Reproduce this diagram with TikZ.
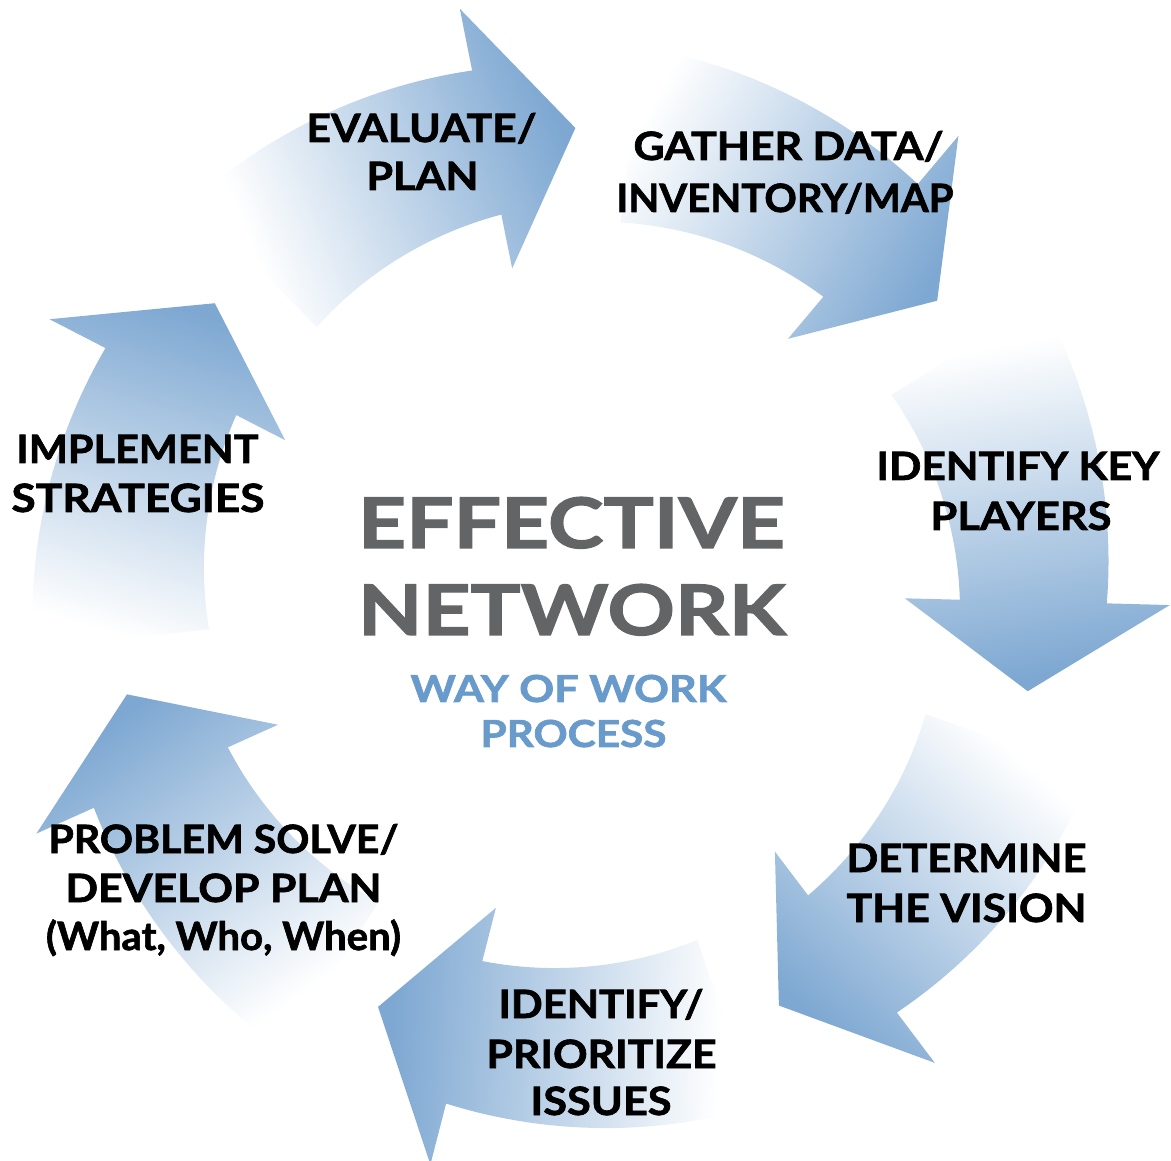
\documentclass[tikz,border=0pt]{standalone}
\usepackage{fontspec}
\setmainfont{Lato}[BoldFeatures={FakeBold=1.6}]
\usepackage{graphicx}
\definecolor{arrowblue}{RGB}{126,168,210}
\definecolor{titlegray}{RGB}{99,100,102}
\definecolor{subblue}{RGB}{104,154,203}
\pgfdeclareverticalshading{arrowshade}{100bp}{color(0bp)=(white); color(33.6bp)=(white); color(65.4bp)=(arrowblue); color(100bp)=(arrowblue)}
\newlength\pxu
\setlength\pxu{0.2mm}
\newcommand\fitw[2]{\resizebox{#1\pxu}{\height}{#2}}
\newcommand\labfont{\fontsize{22.2pt}{27pt}\selectfont\bfseries}
\newcommand\titfont{\fontsize{39.7pt}{48pt}\selectfont\bfseries}
\newcommand\subfont{\fontsize{21.2pt}{26pt}\selectfont\bfseries}
\tikzset{
 lab/.style={anchor=base, inner sep=0pt, font=\labfont, text=black},
 tit/.style={anchor=base, inner sep=0pt, font=\titfont, text=titlegray},
 sub/.style={anchor=base, inner sep=0pt, font=\subfont, text=subblue},
}
\begin{document}
\begin{tikzpicture}[x=0.2mm,y=0.2mm]
\useasboundingbox (-577,-571) rectangle (594,590);
\foreach \k in {0,...,6}{
  \pgfmathsetmacro\tipA{90.2-51.4286*\k}
  \pgfmathsetmacro\baseA{\tipA+11.2}
  \pgfmathsetmacro\tailA{\tipA+44.5}
  \pgfmathsetmacro\midA{(\tipA+\tailA)/2}
  \pgfmathsetmacro\shA{\midA-180}
  \begin{scope}
    \clip plot[domain=0:1,samples=30] ({\tailA+(\baseA-\tailA)*\x}:{547-17*\x})
      -- (\baseA:593) -- (\tipA:462) -- (\baseA:328)
      -- plot[domain=0:1,samples=30] ({\tailA+(\baseA-\tailA)*(1-\x)}:{370+13*(1-\x)}) -- cycle;
    \shade[shading=arrowshade, shading angle=\shA] (\midA:426) ++(-260,-260) rectangle ++(520,520);
  \end{scope}
}
\node[lab] (ev1) at (-155.5,448) {\fitw{230}{EVALUATE/}};
\node[lab] (ev2) at (-154.5,400) {\fitw{112}{PLAN}};
\node[lab] (ga1) at (211.5,430) {\fitw{310}{GATHER DATA/}};
\node[lab] (ga2) at (208,378) {\fitw{337}{INVENTORY/MAP}};
\node[lab] (kp1) at (441,110) {\fitw{283}{IDENTIFY KEY}};
\node[lab] (kp2) at (444,60) {\fitw{181}{PLAYERS}};
\node[lab] (im1) at (-439.5,127) {\fitw{242}{IMPLEMENT}};
\node[lab] (im2) at (-439,78) {\fitw{253}{STRATEGIES}};
\node[lab] (ps1) at (-353.5,-263) {\fitw{350}{PROBLEM SOLVE/}};
\node[lab] (ps2) at (-353.5,-312) {\fitw{316}{DEVELOP PLAN}};
\node[lab] (ps3) at (-353.5,-360) {\fitw{355}{(What, Who, When)}};
\node[lab] (pr1) at (24,-428) {\fitw{205}{IDENTIFY/}};
\node[lab] (pr2) at (24.5,-478) {\fitw{230}{PRIORITIZE}};
\node[lab] (pr3) at (24,-525) {\fitw{141}{ISSUES}};
\node[lab] (dv1) at (389.5,-282) {\fitw{240}{DETERMINE}};
\node[lab] (dv2) at (389.5,-332) {\fitw{240}{THE VISION}};
\node[tit] (ef1) at (-5.5,42) {\fitw{427}{EFFECTIVE}};
\node[tit] (ef2) at (-5,-45) {\fitw{428}{NETWORK}};
\node[sub] (wo1) at (-8.5,-112) {\fitw{316}{WAY OF WORK}};
\node[sub] (wo2) at (-3.5,-157) {\fitw{186}{PROCESS}};
\end{tikzpicture}
\end{document}
